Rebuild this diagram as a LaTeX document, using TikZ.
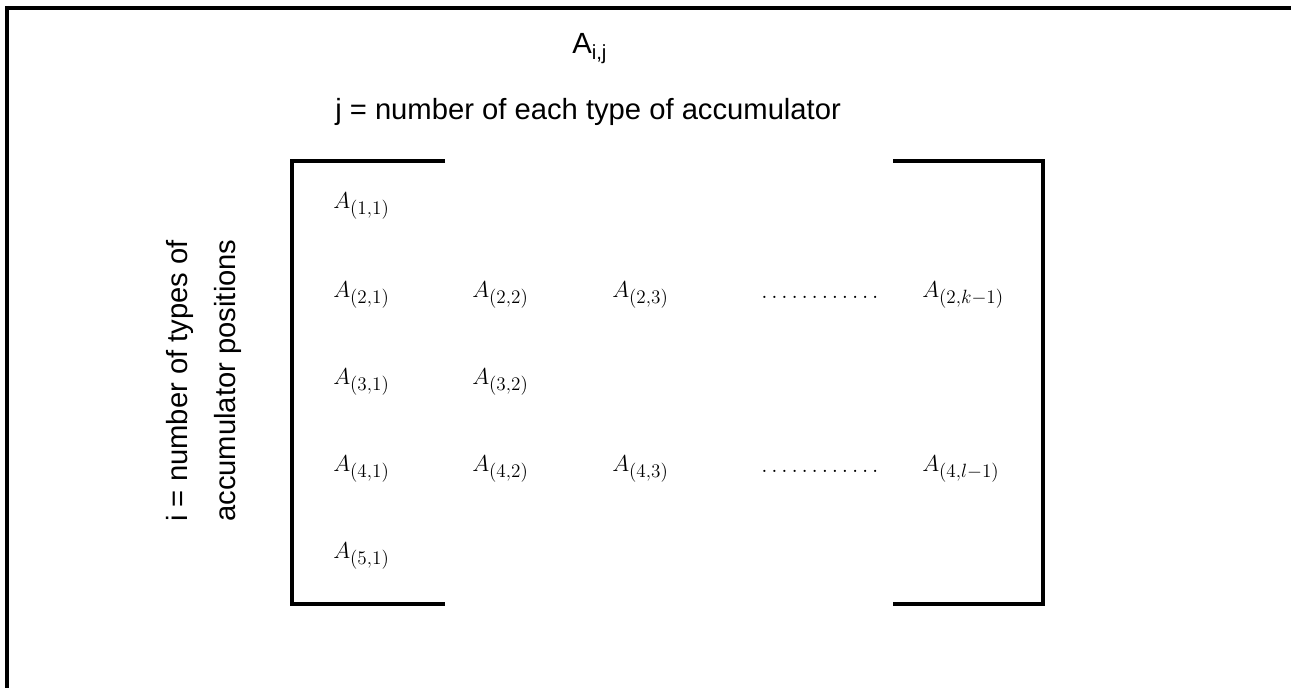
\documentclass[tikz,border=0pt]{standalone}
\usepackage[no-math]{fontspec}
\setmainfont{Liberation Sans}
\usetikzlibrary{positioning}
% entry A with its subscript set at a fixed size
\newcommand{\Aent}[1]{$A_{\hbox{\fontsize{15}{18}\selectfont$(#1)$}}$}

\begin{document}
\begin{tikzpicture}[
  x=0.75pt, y=-0.75pt,
  entry/.style={anchor=base west, inner sep=0pt, font=\fontsize{17}{21}\selectfont},
  dotrow/.style={entry, font=\fontsize{16.5}{20}\selectfont},
  caption/.style={anchor=base west, inner sep=0pt, font=\fontsize{21.9}{26}\selectfont},
  frame/.style={line width=3pt},
]
  \useasboundingbox (0,0) rectangle (1291,688);

  % outer frame (top and left only)
  \draw[frame] (7,6) -- (7,688);
  \draw[frame] (5,8) -- (1291,8);

  % titles
  \node[caption] (title) at (572,54) {A\textsubscript{i,j}};
  \node[caption] (jlabel) at (335,120) {j = number of each type of accumulator};
  \node[caption, rotate=90] (ilabel) at (187,522) {i = number of types of};
  \node[caption, rotate=90] (ilabelb) at (235,522) {accumulator positions};

  % brackets
  \draw[frame] (445,161) -- (292,161) -- (292,604) -- (445,604);
  \draw[frame] (893,161) -- (1043,161) -- (1043,604) -- (893,604);

  % row 1
  \node[entry] (a11) at (333,208) {\Aent{1{,}1}};
  % row 2
  \node[entry] (a21) at (333,297) {\Aent{2{,}1}};
  \node[entry] (a22) at (472,297) {\Aent{2{,}2}};
  \node[entry] (a23) at (612,297) {\Aent{2{,}3}};
  \node[dotrow] (dots2) at (761,298) {$\ldotp\ldotp\ldotp\ldotp\ldotp\ldotp\ldotp\ldotp\ldotp\ldotp\ldotp\ldotp$};
  \node[entry] (a2k) at (922,297) {\Aent{2{,}k{-}1}};
  % row 3
  \node[entry] (a31) at (333,384) {\Aent{3{,}1}};
  \node[entry] (a32) at (472,384) {\Aent{3{,}2}};
  % row 4
  \node[entry] (a41) at (333,471) {\Aent{4{,}1}};
  \node[entry] (a42) at (472,471) {\Aent{4{,}2}};
  \node[entry] (a43) at (612,471) {\Aent{4{,}3}};
  \node[dotrow] (dots4) at (761,472) {$\ldotp\ldotp\ldotp\ldotp\ldotp\ldotp\ldotp\ldotp\ldotp\ldotp\ldotp\ldotp$};
  \node[entry] (a4l) at (922,471) {\Aent{4{,}l{-}1}};
  % row 5
  \node[entry] (a51) at (333,558) {\Aent{5{,}1}};
\end{tikzpicture}
\end{document}
